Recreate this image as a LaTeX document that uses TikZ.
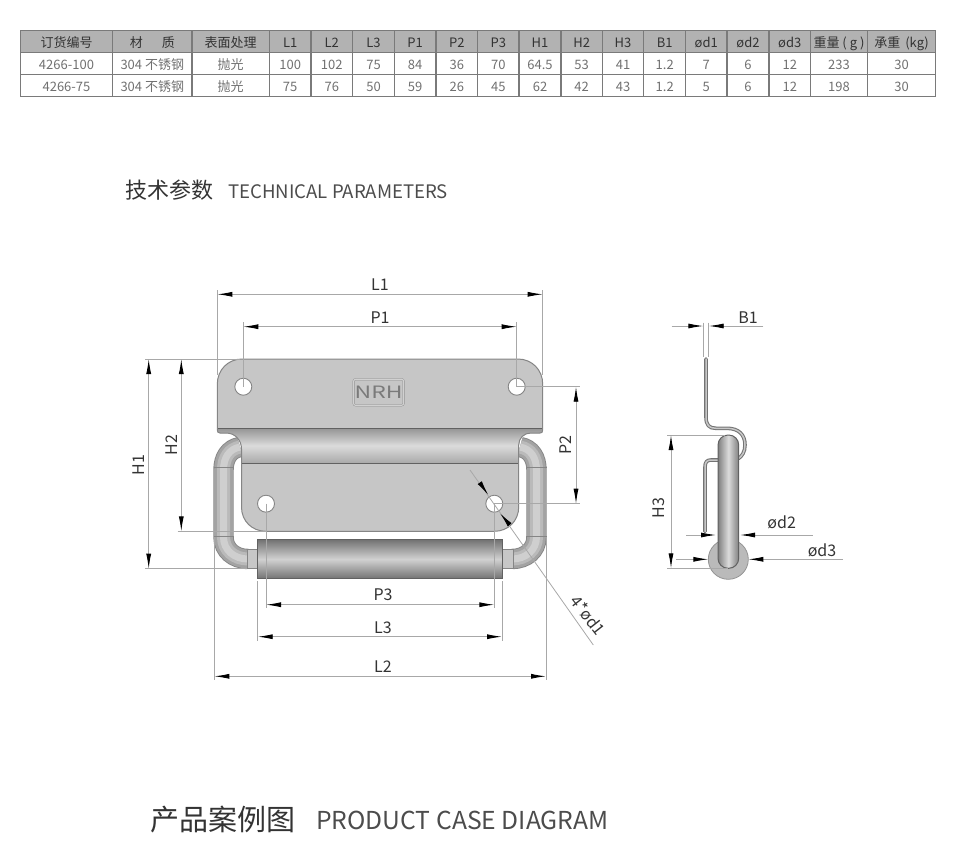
\documentclass[tikz,border=0pt]{standalone}
\usepackage{fontspec}
\usepackage{graphicx}
\setmainfont{Noto Sans CJK SC}
\usetikzlibrary{arrows.meta}
\definecolor{dimgray}{HTML}{A8A8A8}
\definecolor{inkgray}{HTML}{333333}
\definecolor{bodygray}{HTML}{707070}
\definecolor{plategray}{HTML}{C6C6C6}
\definecolor{edgegray}{HTML}{858585}
\tikzset{
    headcell/.style={text=inkgray, font=\fontsize{13}{13}\selectfont, inner sep=0pt, text height=10pt, text depth=2pt},
    bodycell/.style={text=bodygray, font=\fontsize{13}{13}\selectfont, inner sep=0pt, text height=10pt, text depth=2pt},
    dimlabel/.style={text=inkgray, font=\fontsize{16}{16}\selectfont, inner sep=0pt},
    extline/.style={draw=dimgray, line width=0.8pt},
    dimline/.style={draw=dimgray, line width=0.9pt},
    dimtips/.style={dimline, {Latex[length=15pt,width=5pt,black]}-{Latex[length=15pt,width=5pt,black]}},
    dimtip/.style={dimline, -{Latex[length=15pt,width=5pt,black]}},
    holept/.style={circle, draw=edgegray, fill=white, line width=0.9pt, minimum size=17pt, inner sep=0pt},
    seam/.style={draw=edgegray, line width=0.8pt}
}
\newcommand{\platepath}{(217.3,384) .. controls (217.3,370) and (228,359) .. (242,359) -- (518,359) .. controls (532,359) and (542.7,370) .. (542.7,384) -- (542.7,430) .. controls (542.7,432.5) and (541.5,433) .. (540,433) -- (531,433) .. controls (524,433) and (518.7,438) .. (518.7,445) -- (518.7,507) .. controls (518.7,521) and (508,531.3) .. (494.3,531.3) -- (266,531.3) .. controls (252,531.3) and (241.5,521) .. (241.5,507) -- (241.5,449) .. controls (241.5,440) and (235,433) .. (226,433) -- (220,433) .. controls (218.2,433) and (217.3,432) .. (217.3,430) -- cycle}
\newcommand{\tubepath}[1]{%
    \draw [line width=20.4pt, draw=edgegray] #1;
    \draw [line width=18.6pt, draw=black!36] #1;
    \draw [line width=13pt, draw=black!27] #1;
    \draw [line width=7pt, draw=black!19] #1;
}
\newcommand{\sheetpath}[1]{%
    \draw [line width=3.6pt, draw=black!55, line cap=round, line join=round] #1;
    \draw [line width=1.5pt, draw=black!22, line cap=round, line join=round] #1;
}
\begin{document}
\begin{tikzpicture}[x=1pt,y=-1pt]
    \useasboundingbox (0,0) rectangle (960,865);
    % table
    \path [fill=black!30] (20.3,30.7) rectangle (935.7,52.3);
    \draw [draw=black!52, line width=1.1pt] (20.3,30.7) rectangle (935.7,96.3)
        (20.3,52.3) -- (935.7,52.3) (20.3,74.3) -- (935.7,74.3)
        (112.7,30.7) -- (112.7,96.3) (192,30.7) -- (192,96.3) (269.3,30.7) -- (269.3,96.3)
        (311,30.7) -- (311,96.3) (352.7,30.7) -- (352.7,96.3) (394.3,30.7) -- (394.3,96.3)
        (436,30.7) -- (436,96.3) (477.7,30.7) -- (477.7,96.3) (519,30.7) -- (519,96.3)
        (561,30.7) -- (561,96.3) (602.3,30.7) -- (602.3,96.3) (643.7,30.7) -- (643.7,96.3)
        (685.7,30.7) -- (685.7,96.3) (727,30.7) -- (727,96.3) (769,30.7) -- (769,96.3)
        (810.7,30.7) -- (810.7,96.3) (867.3,30.7) -- (867.3,96.3);
    \node [headcell] (hOrder) at (66.5,43) {订货编号};
    \node [headcell] (hMat) at (152.3,43) {材\hspace{19pt}质};
    \node [headcell] (hFinish) at (230.7,43) {表面处理};
    \node [headcell] (hLa) at (290.2,43) {L1};
    \node [headcell] (hLb) at (331.8,43) {L2};
    \node [headcell] (hLc) at (373.5,43) {L3};
    \node [headcell] (hPa) at (415.2,43) {P1};
    \node [headcell] (hPb) at (456.8,43) {P2};
    \node [headcell] (hPc) at (498.3,43) {P3};
    \node [headcell] (hHa) at (540,43) {H1};
    \node [headcell] (hHb) at (581.7,43) {H2};
    \node [headcell] (hHc) at (623,43) {H3};
    \node [headcell] (hBa) at (664.7,43) {B1};
    \node [headcell] (hDa) at (706.3,43) {ød1};
    \node [headcell] (hDb) at (748,43) {ød2};
    \node [headcell] (hDc) at (789.8,43) {ød3};
    \node [headcell] (hWeight) at (839,43) {重量 ( g )};
    \node [headcell] (hLoad) at (901.5,43) {承重\hspace{5pt}(kg)};
    \node [bodycell] (aOrder) at (66.5,65) {4266-100};
    \node [bodycell] (aMat) at (152.3,65) {304 不锈钢};
    \node [bodycell] (aFinish) at (230.7,65) {抛光};
    \node [bodycell] (aLa) at (290.2,65) {100};
    \node [bodycell] (aLb) at (331.8,65) {102};
    \node [bodycell] (aLc) at (373.5,65) {75};
    \node [bodycell] (aPa) at (415.2,65) {84};
    \node [bodycell] (aPb) at (456.8,65) {36};
    \node [bodycell] (aPc) at (498.3,65) {70};
    \node [bodycell] (aHa) at (540,65) {64.5};
    \node [bodycell] (aHb) at (581.7,65) {53};
    \node [bodycell] (aHc) at (623,65) {41};
    \node [bodycell] (aBa) at (664.7,65) {1.2};
    \node [bodycell] (aDa) at (706.3,65) {7};
    \node [bodycell] (aDb) at (748,65) {6};
    \node [bodycell] (aDc) at (789.8,65) {12};
    \node [bodycell] (aWeight) at (839,65) {233};
    \node [bodycell] (aLoad) at (901.5,65) {30};
    \node [bodycell] (bOrder) at (66.5,87) {4266-75};
    \node [bodycell] (bMat) at (152.3,87) {304 不锈钢};
    \node [bodycell] (bFinish) at (230.7,87) {抛光};
    \node [bodycell] (bLa) at (290.2,87) {75};
    \node [bodycell] (bLb) at (331.8,87) {76};
    \node [bodycell] (bLc) at (373.5,87) {50};
    \node [bodycell] (bPa) at (415.2,87) {59};
    \node [bodycell] (bPb) at (456.8,87) {26};
    \node [bodycell] (bPc) at (498.3,87) {45};
    \node [bodycell] (bHa) at (540,87) {62};
    \node [bodycell] (bHb) at (581.7,87) {42};
    \node [bodycell] (bHc) at (623,87) {43};
    \node [bodycell] (bBa) at (664.7,87) {1.2};
    \node [bodycell] (bDa) at (706.3,87) {5};
    \node [bodycell] (bDb) at (748,87) {6};
    \node [bodycell] (bDc) at (789.8,87) {12};
    \node [bodycell] (bWeight) at (839,87) {198};
    \node [bodycell] (bLoad) at (901.5,87) {30};
    % headings
    \node [anchor=west, inner sep=0pt, text=inkgray, font=\fontsize{22}{22}\selectfont] (techCn) at (125,190.5) {技术参数};
    \node [anchor=west, inner sep=0pt, text=black!70, font=\fontsize{18.6}{19}\selectfont] (techEn) at (228,191.5) {TECHNICAL PARAMETERS};
    \node [anchor=west, inner sep=0pt, text=inkgray, font=\fontsize{29}{29}\selectfont] (caseCn) at (150,819) {产品案例图};
    \node [anchor=west, inner sep=0pt, text=black!70, font=\fontsize{24.7}{25}\selectfont] (caseEn) at (316,820) {PRODUCT CASE DIAGRAM};
    % handle wire behind the plate
    \tubepath{(240,447) .. controls (229,449) and (223.5,458) .. (223.5,470) -- (223.5,537) .. controls (223.5,550) and (234,559) .. (248,559)}
    \tubepath{(520,447) .. controls (531,449) and (536.5,458) .. (536.5,470) -- (536.5,537) .. controls (536.5,550) and (526,559) .. (512,559)}
    \draw [seam] (213.5,467) -- (233.7,467) (213.5,536.7) -- (233.7,536.7) (526.3,467) -- (546.5,467) (526.3,536.7) -- (546.5,536.7);
    \draw [seam, fill=black!22] (247,549.3) rectangle (258,568.7);
    \draw [seam, fill=black!22] (502,549.3) rectangle (513.3,568.7);
    % plate
    \fill [plategray] \platepath;
    \begin{scope}
        \clip \platepath;
        \shade [top color=black!42, bottom color=black!34, middle color=black!14] (215,428) rectangle (545,463.3);
    \end{scope}
    \draw [draw=black!62, line width=0.9pt] (217.3,428) -- (542.7,428) (241.5,463.3) -- (518.7,463.3);
    \draw [draw=edgegray, line width=1pt] \platepath;
    \node [holept] (holeA) at (243.3,386.7) {};
    \node [holept] (holeB) at (516.7,386.7) {};
    \node [holept] (holeC) at (266,503.7) {};
    \node [holept] (holeD) at (494.3,503.7) {};
    \node [draw=black!45, double=black!18, double distance=1.2pt, rounded corners=2pt, minimum width=50pt, minimum height=26pt, inner sep=0pt, text=black!52, font=\fontsize{17}{17}\selectfont] (logo) at (378.6,392.3) {\scalebox{1.35}[1]{NRH}};
    % roller
    \shade [top color=black!55, bottom color=black!55, middle color=black!18] (257.7,539.7) rectangle (502,578.7);
    \draw [draw=black!62, line width=1pt] (257.7,539.7) rectangle (502,578.7);
    % side view
    \sheetpath{(706,359) -- (706,417) .. controls (706,425) and (709,428.3) .. (716,428.3) -- (727,428.3) .. controls (739,428.3) and (745,435) .. (745,445) .. controls (745,452) and (742,456) .. (738.5,458.5)}
    \sheetpath{(719,460) -- (711,460) .. controls (707,460) and (705,462) .. (705,467) -- (705,531.5)}
    \draw [draw=black!42, fill=black!27, line width=0.8pt] (728.3,559.3) circle [radius=20pt];
    \shade [left color=black!50, right color=black!50, middle color=black!14, rounded corners=10pt] (718,435) rectangle (738.7,568.3);
    \draw [draw=black!62, line width=1pt, rounded corners=10pt] (718,435) rectangle (738.7,568.3);
    % dimension coordinates, front view
    \coordinate (laL) at (217.3,294.3);
    \coordinate (laR) at (542.7,294.3);
    \coordinate (paL) at (243.3,326.7);
    \coordinate (paR) at (516.7,326.7);
    \coordinate (haT) at (148.7,359);
    \coordinate (haB) at (148.7,568.7);
    \coordinate (hbT) at (181.3,359);
    \coordinate (hbB) at (181.3,531.3);
    \coordinate (pbT) at (576,386.7);
    \coordinate (pbB) at (576,503.7);
    \coordinate (pcL) at (266,604.7);
    \coordinate (pcR) at (494.3,604.7);
    \coordinate (lcL) at (257.7,636.7);
    \coordinate (lcR) at (502,636.7);
    \coordinate (lbL) at (214.3,676.3);
    \coordinate (lbR) at (546,676.3);
    % extension lines
    \draw [extline] (217.3,290) -- (217.3,375);
    \draw [extline] (542.7,290) -- (542.7,375);
    \draw [extline] (243.3,322.3) -- (holeA.center);
    \draw [extline] (516.7,322.3) -- (holeB.center);
    \draw [extline] (145,359) -- (240,359);
    \draw [extline] (145,568.7) -- (247,568.7);
    \draw [extline] (177.7,531.3) -- (266,531.3);
    \draw [extline] (holeB.center) -- (580,386.7);
    \draw [extline] (holeD.center) -- (579.5,503.7);
    \draw [extline] (holeC.center) -- (266,608.3);
    \draw [extline] (holeD.center) -- (494.3,608.3);
    \draw [extline] (257.7,581) -- (257.7,641);
    \draw [extline] (502,581) -- (502,641);
    \draw [extline] (214.3,537) -- (214.3,680);
    \draw [extline] (546,537) -- (546,680);
    % dimension lines
    \draw [dimtips] (laL) -- (laR);
    \draw [dimtips] (paL) -- (paR);
    \draw [dimtips] (haT) -- (haB);
    \draw [dimtips] (hbT) -- (hbB);
    \draw [dimtips] (pbT) -- (pbB);
    \draw [dimtips] (pcL) -- (pcR);
    \draw [dimtips] (lcL) -- (lcR);
    \draw [dimtips] (lbL) -- (lbR);
    \node [dimlabel] (laText) at (380,285) {L1};
    \node [dimlabel] (paText) at (380,317.5) {P1};
    \node [dimlabel, rotate=90] (haText) at (138.3,465) {H1};
    \node [dimlabel, rotate=90] (hbText) at (172,445) {H2};
    \node [dimlabel, rotate=90] (pbText) at (566,445) {P2};
    \node [dimlabel] (pcText) at (383,594.5) {P3};
    \node [dimlabel] (lcText) at (383,627.5) {L3};
    \node [dimlabel] (lbText) at (383,666.5) {L2};
    % hole leader
    \coordinate (leadA) at (470,470);
    \coordinate (leadB) at (593.3,645);
    \coordinate (tipAa) at (480,483);
    \coordinate (tipAb) at (488.3,495);
    \coordinate (tipBa) at (509.3,524.3);
    \coordinate (tipBb) at (500,513.3);
    \draw [extline] (leadA) -- (leadB);
    \draw [-{Latex[length=15pt,width=5pt,black]}, line width=0.9pt] (tipAa) -- (tipAb);
    \draw [-{Latex[length=15pt,width=5pt,black]}, line width=0.9pt] (tipBa) -- (tipBb);
    \node [dimlabel, rotate=-52] (holeText) at (588.5,615.5) {4*ød1};
    % dimensions, side view
    \coordinate (baA) at (703.3,326);
    \coordinate (baB) at (708.7,326);
    \coordinate (baFreeA) at (671.7,326);
    \coordinate (baFreeB) at (763.3,326);
    \coordinate (hcT) at (671,435);
    \coordinate (hcB) at (671,568.3);
    \coordinate (dbA) at (716,535);
    \coordinate (dbB) at (740,535);
    \coordinate (dbFreeA) at (686,535);
    \coordinate (dbFreeB) at (812.7,535);
    \coordinate (dcA) at (708.3,559.3);
    \coordinate (dcB) at (748.3,559.3);
    \coordinate (dcFreeA) at (676,559.3);
    \coordinate (dcFreeB) at (843,559.3);
    \draw [extline] (703.3,322.7) -- (703.3,356.7);
    \draw [extline] (708.7,322.7) -- (708.7,356.7);
    \draw [extline] (667.3,435) -- (725,435);
    \draw [extline] (667.3,568.3) -- (728,568.3);
    \draw [dimtip] (baFreeA) -- (baA);
    \draw [dimtip] (baFreeB) -- (baB);
    \draw [dimtips] (hcT) -- (hcB);
    \draw [dimtip] (dbFreeA) -- (dbA);
    \draw [dimtip] (dbFreeB) -- (dbB);
    \draw [dimtip] (dcFreeA) -- (dcA);
    \draw [dimtip] (dcFreeB) -- (dcB);
    \node [dimlabel] (baText) at (748,318) {B1};
    \node [dimlabel, rotate=90] (hcText) at (659,508) {H3};
    \node [dimlabel] (dbText) at (781.7,522) {ød2};
    \node [dimlabel] (dcText) at (822,550) {ød3};
\end{tikzpicture}
\end{document}
